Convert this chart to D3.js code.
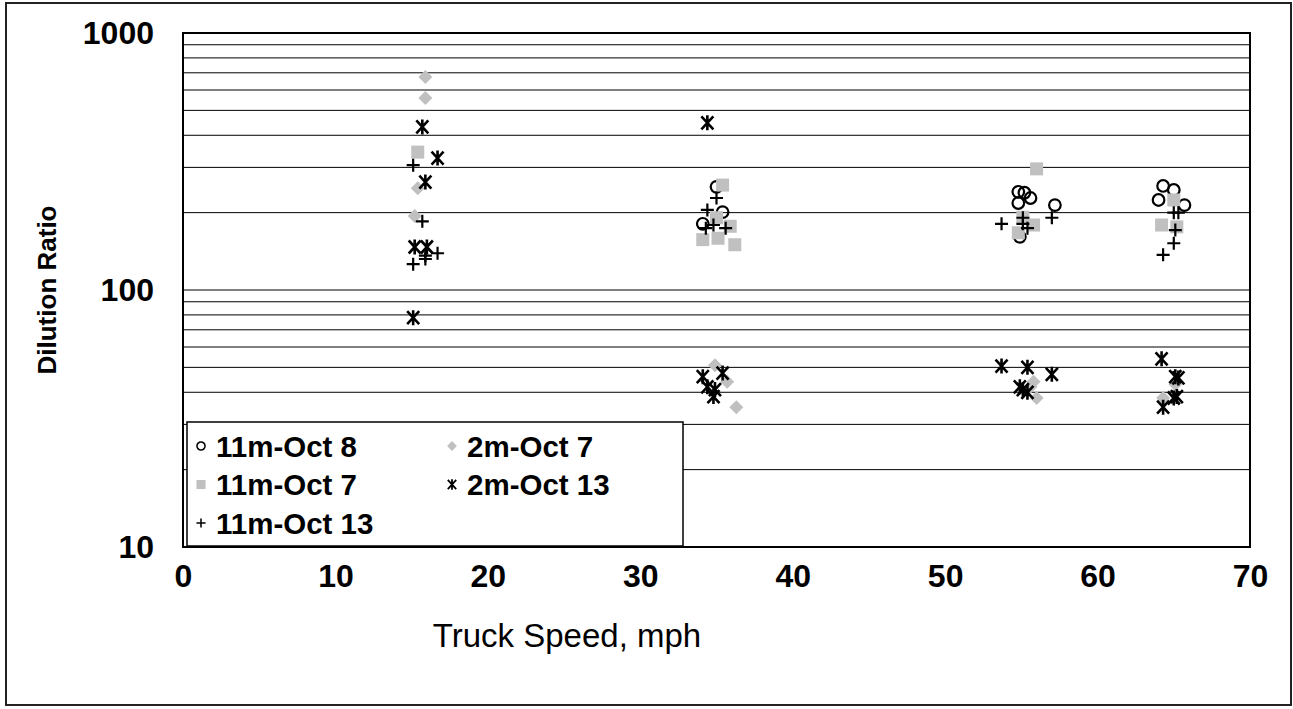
<!DOCTYPE html>
<html>
<head>
<meta charset="utf-8">
<script src="https://cdn.jsdelivr.net/npm/d3@7"></script>
<style>
  body { margin: 0; background: #fff; }
  svg { display: block; font-family: "Liberation Sans", Arial, sans-serif; }
</style>
</head>
<body>
<div id="chart"></div>
<script>
// values (speed in mph, dilution ratio)
const oct8_11m_speed = [35.0, 35.4, 34.1, 54.8, 55.2, 55.6, 54.8, 57.2, 54.9, 64.3, 65.0, 64.0, 65.7];
const oct8_11m_ratio = [252, 201, 181, 241, 239, 228, 218, 214, 161, 254, 245, 224, 214];

const oct7_2m_speed = [15.9, 15.9, 15.4, 15.2, 34.9, 35.7, 36.3, 55.6, 56.0, 55.8, 64.3, 65.1];
const oct7_2m_ratio = [674, 558, 249, 194, 51, 44, 35, 42, 38, 44, 38, 43];

const oct7_11m_speed = [15.4, 35.4, 35.0, 35.9, 34.1, 35.1, 36.2, 56.0, 55.1, 55.8, 54.8, 65.0, 64.2, 65.2];
const oct7_11m_ratio = [344, 256, 191, 177, 157, 159, 150, 296, 192, 179, 167, 224, 179, 176];

const oct13_2m_speed = [15.7, 16.7, 15.9, 15.2, 16.0, 15.1, 34.4, 34.1, 35.4, 34.4, 34.9, 34.8,
  53.7, 55.4, 57.0, 55.1, 55.4, 54.9, 64.2, 65.1, 65.3, 65.0, 65.2, 64.3];
const oct13_2m_ratio = [431, 326, 263, 147, 147, 78, 447, 46, 47.5, 42, 41, 38.5,
  50.6, 50, 47, 41, 40, 42, 54, 46, 45.5, 38, 38.5, 35];

const oct13_11m_speed = [15.1, 15.7, 15.1, 15.9, 15.9, 16.7, 35.0, 34.4, 34.8, 35.6, 34.3,
  53.7, 55.1, 55.1, 55.4, 57.0, 65.0, 65.3, 65.1, 65.0, 64.3];
const oct13_11m_ratio = [306, 185, 126, 132, 136, 139, 228, 205, 179, 174, 174,
  181, 191, 181, 174, 191, 200, 200, 171, 152, 137];

const seriesNames = ["11m-Oct 8", "2m-Oct 7", "11m-Oct 7", "2m-Oct 13", "11m-Oct 13"];
const xTicks = [0, 10, 20, 30, 40, 50, 60, 70];
const yLabelTicks = [10, 100, 1000];

const width = 1293, height = 709;
const plot = { left: 183, right: 1250, top: 33, bottom: 547 };

const svg = d3.select("#chart").append("svg")
  .attr("width", width)
  .attr("height", height);

// outer border
svg.append("rect")
  .attr("x", 6).attr("y", 3)
  .attr("width", 1285).attr("height", 702)
  .attr("fill", "#fff")
  .attr("stroke", "#222")
  .attr("stroke-width", 2);

const x = d3.scaleLinear().domain([0, 70]).range([plot.left, plot.right]);
const y = d3.scaleLog().domain([10, 1000]).range([plot.bottom, plot.top]);

// gridlines at every log step
const gridValues = [];
for (let d = 10; d < 1000; d *= 10) {
  for (let k = 2; k <= 10; k++) gridValues.push(d * k);
}

svg.append("g")
  .selectAll("line")
  .data(gridValues)
  .enter()
  .append("line")
  .attr("x1", plot.left).attr("x2", plot.right)
  .attr("y1", (d) => y(d)).attr("y2", (d) => y(d))
  .attr("stroke", "#000")
  .attr("stroke-width", 1);

// plot frame
svg.append("rect")
  .attr("x", plot.left).attr("y", plot.top)
  .attr("width", plot.right - plot.left)
  .attr("height", plot.bottom - plot.top)
  .attr("fill", "none")
  .attr("stroke", "#000")
  .attr("stroke-width", 2);

// axes (labels only, no tick marks)
const xAxis = svg.append("g")
  .attr("transform", `translate(0,${plot.bottom})`)
  .call(d3.axisBottom(x).tickValues(xTicks).tickSize(0).tickPadding(17));
xAxis.select(".domain").remove();
xAxis.selectAll("text")
  .attr("font-size", 32)
  .attr("font-weight", "bold")
  .attr("font-family", "Liberation Sans, Arial, sans-serif")
  .attr("fill", "#000");

const yAxis = svg.append("g")
  .attr("transform", `translate(${plot.left},0)`)
  .call(d3.axisLeft(y).tickValues(yLabelTicks).tickFormat(d3.format("d")).tickSize(0).tickPadding(29));
yAxis.select(".domain").remove();
yAxis.selectAll("text")
  .attr("font-size", 32)
  .attr("font-weight", "bold")
  .attr("font-family", "Liberation Sans, Arial, sans-serif")
  .attr("fill", "#000");

svg.append("text")
  .attr("x", 567)
  .attr("y", 647)
  .attr("text-anchor", "middle")
  .attr("font-size", 33)
  .text("Truck Speed, mph");

svg.append("text")
  .attr("transform", `translate(56,${(plot.top + plot.bottom) / 2}) rotate(-90)`)
  .attr("text-anchor", "middle")
  .attr("font-size", 26)
  .attr("font-weight", "bold")
  .text("Dilution Ratio");

// marker drawing
const GRAY = "#c0c0c0";
const markers = {
  circle: (g, s) => g.append("circle").attr("r", 5.8 * s).attr("fill", "none")
    .attr("stroke", "#000").attr("stroke-width", 2.2 * Math.min(s, 1)),
  diamond: (g, s) => g.append("path").attr("d", `M0,${-7 * s}L${7 * s},0L0,${7 * s}L${-7 * s},0Z`)
    .attr("fill", GRAY),
  square: (g, s) => g.append("rect").attr("x", -6.5 * s).attr("y", -6.5 * s)
    .attr("width", 13 * s).attr("height", 13 * s).attr("fill", GRAY),
  star: (g, s) => g.append("path")
    .attr("d", `M${-6 * s},${-6.5 * s}L${6 * s},${6.5 * s}M${-6 * s},${6.5 * s}L${6 * s},${-6.5 * s}M0,${-7.5 * s}V${7.5 * s}`)
    .attr("stroke", "#000").attr("stroke-width", 2.6 * Math.min(s, 1)).attr("fill", "none"),
  plus: (g, s) => g.append("path")
    .attr("d", `M${-6.5 * s},0H${6.5 * s}M0,${-6.5 * s}V${6.5 * s}`)
    .attr("stroke", "#000").attr("stroke-width", 2.2 * Math.min(s, 1)).attr("fill", "none"),
};

const series = [
  { name: seriesNames[0], speed: oct8_11m_speed, ratio: oct8_11m_ratio, marker: "circle" },
  { name: seriesNames[1], speed: oct7_2m_speed, ratio: oct7_2m_ratio, marker: "diamond" },
  { name: seriesNames[2], speed: oct7_11m_speed, ratio: oct7_11m_ratio, marker: "square" },
  { name: seriesNames[3], speed: oct13_2m_speed, ratio: oct13_2m_ratio, marker: "star" },
  { name: seriesNames[4], speed: oct13_11m_speed, ratio: oct13_11m_ratio, marker: "plus" },
];

series.forEach((s) => {
  const pts = s.speed.map((v, i) => ({ speed: v, ratio: s.ratio[i] }));
  svg.append("g")
    .selectAll("g")
    .data(pts)
    .enter()
    .append("g")
    .attr("transform", (d) => `translate(${x(d.speed)},${y(d.ratio)})`)
    .each(function () { markers[s.marker](d3.select(this), 1); });
});

// legend
const legend = svg.append("g");
legend.append("rect")
  .attr("x", 187).attr("y", 422)
  .attr("width", 496).attr("height", 124)
  .attr("fill", "#fff")
  .attr("stroke", "#000")
  .attr("stroke-width", 1.5);

const legendPos = [
  { col: 0, row: 0 }, { col: 1, row: 0 },
  { col: 0, row: 1 }, { col: 1, row: 1 },
  { col: 0, row: 2 },
];

series.forEach((s, i) => {
  const p = legendPos[i];
  const lx = 201 + p.col * 251;
  const ly = 446 + p.row * 38.5;
  const g = legend.append("g").attr("transform", `translate(${lx},${ly})`);
  markers[s.marker](g, 0.7);
  g.append("text")
    .attr("x", 15)
    .attr("y", 10.5)
    .attr("font-size", 29.5)
    .attr("font-weight", "bold")
    .text(s.name);
});
</script>
</body>
</html>
